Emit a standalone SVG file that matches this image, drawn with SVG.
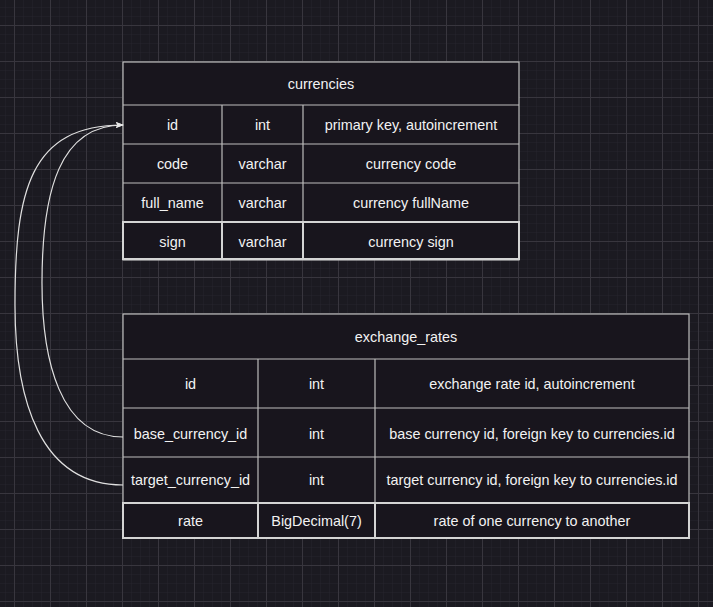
<svg xmlns="http://www.w3.org/2000/svg" width="713" height="607" viewBox="0 0 713 607">
<defs>
<pattern id="minor" x="14" y="25" width="9" height="9" patternUnits="userSpaceOnUse">
<path d="M0,0 H9 M0,0 V9" fill="none" stroke="#26242d" stroke-width="1"/>
</pattern>
<pattern id="major" x="14" y="25" width="36" height="36" patternUnits="userSpaceOnUse">
<path d="M0,0.5 H36 M0.5,0 V36" fill="none" stroke="#38363e" stroke-width="1"/>
</pattern>
<marker id="arr" viewBox="0 0 10 10" refX="9" refY="5" markerWidth="8" markerHeight="8" markerUnits="userSpaceOnUse" orient="auto">
<path d="M0,1 L10,5 L0,9 L2,5 Z" fill="#e6e6e6"/>
</marker>
<style>
.cell{fill:#18151d;stroke:#bdbdbd;stroke-width:1.2}
.last{fill:#18151d;stroke:#d4d4d4;stroke-width:2}
.ln{stroke:#bdbdbd;stroke-width:1.2;fill:none}
.ln2{stroke:#d4d4d4;stroke-width:2;fill:none}
text{font-family:"Liberation Sans",Arial,sans-serif;font-size:14.4px;fill:#f2f2f2;text-anchor:middle;dominant-baseline:central}
.edge{fill:none;stroke:#e0e0e0;stroke-width:1.2}
</style>
</defs>
<rect width="713" height="607" fill="#1b1a21"/>
<rect width="713" height="607" fill="url(#minor)"/>
<rect width="713" height="607" fill="url(#major)"/>

<g id="currencies">
<rect class="cell" x="123" y="62" width="396" height="198"/>
<line class="ln" x1="123" y1="105" x2="519" y2="105"/>
<line class="ln" x1="123" y1="144" x2="519" y2="144"/>
<line class="ln" x1="123" y1="183" x2="519" y2="183"/>
<line class="ln" x1="222" y1="105" x2="222" y2="222"/>
<line class="ln" x1="303" y1="105" x2="303" y2="222"/>
<rect class="last" x="123" y="222" width="396" height="37"/>
<line class="ln2" x1="222" y1="222" x2="222" y2="259"/>
<line class="ln2" x1="303" y1="222" x2="303" y2="259"/>
<text x="321" y="84">currencies</text>
<text x="172.5" y="125">id</text>
<text x="262.5" y="125">int</text>
<text x="411" y="125">primary key, autoincrement</text>
<text x="172.5" y="164">code</text>
<text x="262.5" y="164">varchar</text>
<text x="411" y="164">currency code</text>
<text x="172.5" y="203">full_name</text>
<text x="262.5" y="203">varchar</text>
<text x="411" y="203">currency fullName</text>
<text x="172.5" y="241.5">sign</text>
<text x="262.5" y="241.5">varchar</text>
<text x="411" y="241.5">currency sign</text>
</g>

<g id="exchange_rates">
<rect class="cell" x="123" y="314" width="566" height="224"/>
<line class="ln" x1="123" y1="359" x2="689" y2="359"/>
<line class="ln" x1="123" y1="408" x2="689" y2="408"/>
<line class="ln" x1="123" y1="457" x2="689" y2="457"/>
<line class="ln" x1="258" y1="359" x2="258" y2="503"/>
<line class="ln" x1="375" y1="359" x2="375" y2="503"/>
<rect class="last" x="123" y="503" width="566" height="35"/>
<line class="ln2" x1="258" y1="503" x2="258" y2="538"/>
<line class="ln2" x1="375" y1="503" x2="375" y2="538"/>
<text x="406" y="337">exchange_rates</text>
<text x="190.5" y="384">id</text>
<text x="316.5" y="384">int</text>
<text x="532" y="384">exchange rate id, autoincrement</text>
<text x="190.5" y="434">base_currency_id</text>
<text x="316.5" y="434">int</text>
<text x="532" y="434">base currency id, foreign key to currencies.id</text>
<text x="190.5" y="480">target_currency_id</text>
<text x="316.5" y="480">int</text>
<text x="532" y="480">target currency id, foreign key to currencies.id</text>
<text x="190.5" y="521">rate</text>
<text x="316.5" y="521">BigDecimal(7)</text>
<text x="532" y="521">rate of one currency to another</text>
</g>

<g id="connectors">
<path class="edge" marker-end="url(#arr)" d="M123,437 C60,437 42,360 42,283 C42,190 60,125 123,125"/>
<path class="edge" marker-end="url(#arr)" d="M123,485 C40,485 15,400 15,305 C15,190 30,125 123,125"/>
</g>
</svg>
